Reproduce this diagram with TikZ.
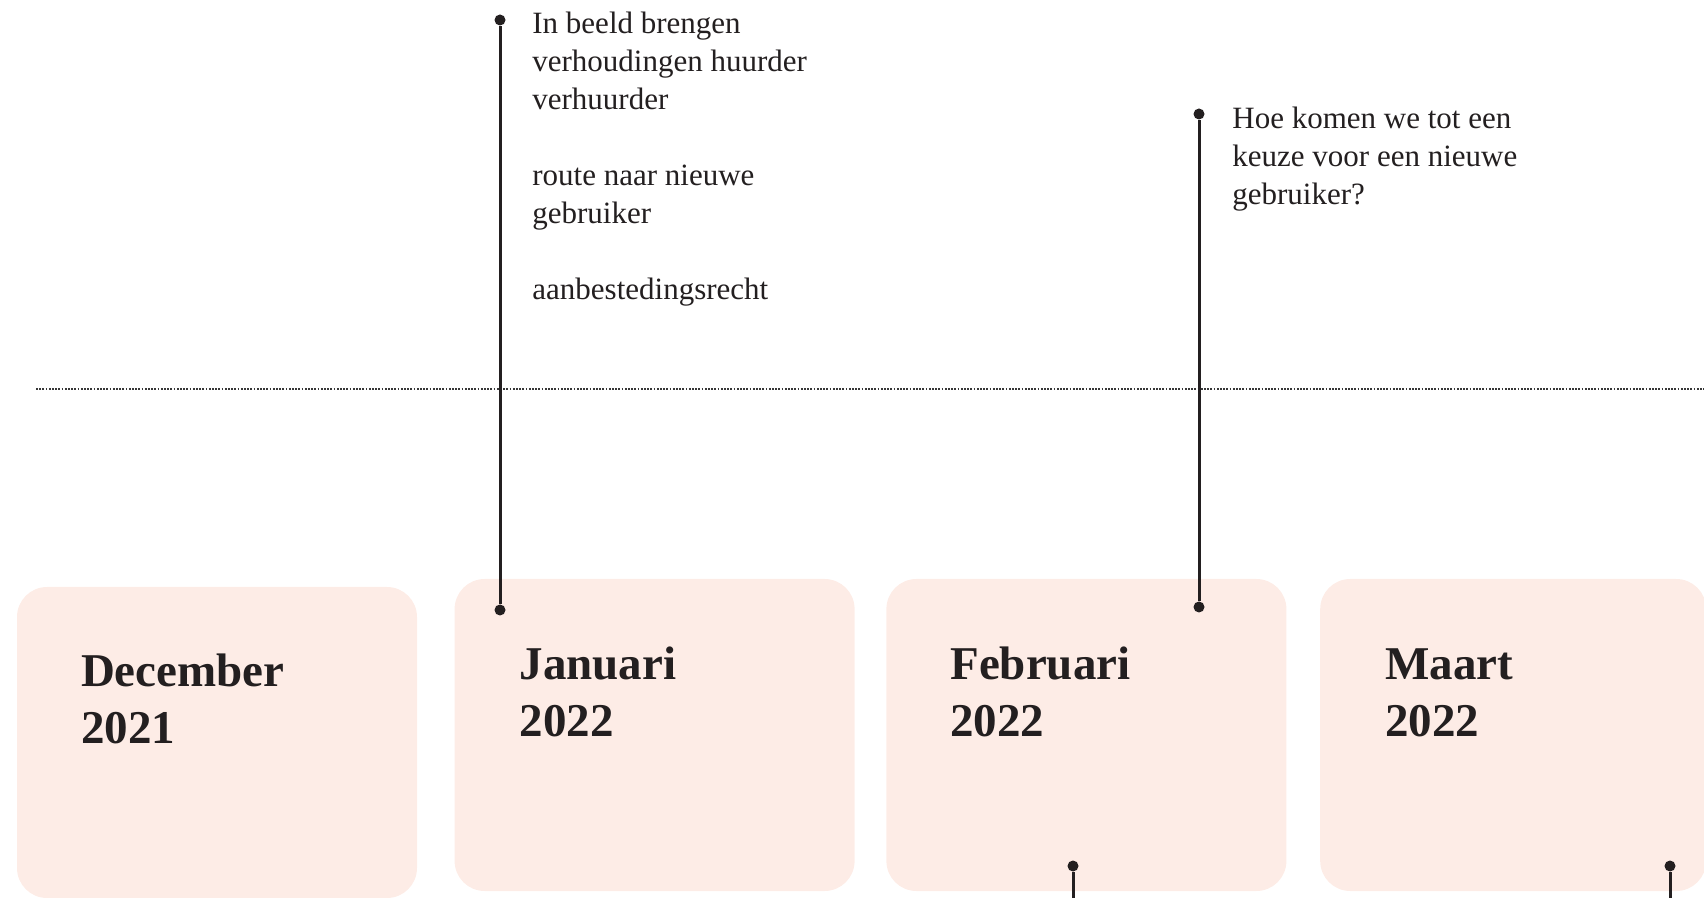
\documentclass[tikz,border=0pt]{standalone}
\usepackage{fontspec}
\setmainfont{Liberation Serif}
\usetikzlibrary{positioning}
\definecolor{boxpink}{RGB}{253,236,230}
\definecolor{ink}{RGB}{35,31,32}
\definecolor{dotgray}{RGB}{55,55,55}

\begin{document}
\begin{tikzpicture}[
  x=0.5pt, y=-0.5pt,
  month/.style={fill=boxpink, rounded corners=15pt, minimum width=200pt,
                minimum height=156pt, inner sep=0pt},
  monthlabel/.style={anchor=north west, inner sep=0pt, align=left, text=ink,
                     font=\fontsize{23.5}{28.5}\selectfont\bfseries},
  note/.style={inner sep=0pt, align=left, text=ink,
               font=\fontsize{15.5}{19}\selectfont},
  pindot/.style={circle, fill=ink, inner sep=0pt, minimum size=5.5pt},
  pinline/.style={draw=ink, line width=1.5pt},
  divider/.style={dotgray, line width=1pt, dash pattern=on 0.9pt off 0.7pt}
]
  \useasboundingbox (0,0) rectangle (1704,898);

  % Month boxes
  \node[month, minimum height=155.5pt] (dec) at (217,742.5) {};
  \node[month, right=18.4pt of dec, yshift=3.75pt] (jan) {};
  \node[month, right=15.5pt of jan] (feb) {};
  \node[month, right=16.5pt of feb, minimum width=193pt] (mrt) {};

  \node[monthlabel, below right=33.5pt and 32pt of dec.north west] (decLabel) {December\\2021};
  \node[monthlabel, below right=34pt and 32.5pt of jan.north west] (janLabel) {Januari\\2022};
  \node[monthlabel, below right=34pt and 32pt of feb.north west] (febLabel) {Februari\\2022};
  \node[monthlabel, below right=35pt and 32.5pt of mrt.north west] (mrtLabel) {Maart\\2022};

  % Dotted divider
  \coordinate (lineStart) at (36,389);
  \coordinate (lineEnd) at (1704,389);
  \draw[divider] (lineStart) -- (lineEnd);

  % Januari pin
  \node[pindot] (janTop) at (500,20) {};
  \node[pindot] (janBot) at (500,610) {};
  \draw[pinline] (janTop) -- (janBot);
  \node[note, below right=-4pt and 16pt of janTop.center] (janNote)
    {In beeld brengen\\verhoudingen huurder\\verhuurder\\[19pt]route naar nieuwe\\gebruiker\\[19pt]aanbestedingsrecht};

  % Februari pin
  \node[pindot] (febTop) at (1199,114) {};
  \node[pindot] (febBot) at (1199,607) {};
  \draw[pinline] (febTop) -- (febBot);
  \node[note, below right=-3.5pt and 16.5pt of febTop.center] (febNote)
    {Hoe komen we tot een\\keuze voor een nieuwe\\gebruiker?};

  % Pins going down
  \node[pindot] (febStub) at (1073,866) {};
  \coordinate (febStubEnd) at (1073,898);
  \draw[pinline] (febStub) -- (febStubEnd);
  \node[pindot] (mrtStub) at (1670,866) {};
  \coordinate (mrtStubEnd) at (1670,898);
  \draw[pinline] (mrtStub) -- (mrtStubEnd);
\end{tikzpicture}
\end{document}
